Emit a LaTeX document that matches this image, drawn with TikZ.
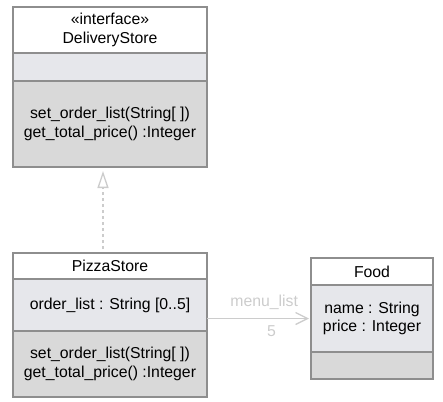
\documentclass[tikz,border=0pt]{standalone}
\usepackage{fontspec}
\setmainfont{Liberation Sans}
\usetikzlibrary{arrows.meta,positioning}
\definecolor{umlline}{HTML}{8E8E8E}
\definecolor{attrfill}{HTML}{E6E7EB}
\definecolor{opfill}{HTML}{D9D9D9}
\definecolor{linkgray}{HTML}{CCCCCC}

\begin{document}
\begin{tikzpicture}[x=1pt,y=-1pt,
  part/.style={draw=umlline,line width=1.6pt,outer sep=0pt,inner sep=0pt,minimum width=194pt,align=center,font=\fontsize{15.8}{18.5}\selectfont},
  namepart/.style={part,fill=white},
  attrpart/.style={part,fill=attrfill},
  oppart/.style={part,fill=opfill},
  realize/.style={draw=linkgray,line width=1.3pt,dash pattern=on 3pt off 3pt,-{Triangle[open,length=17pt,width=11pt,line width=1.3pt]},shorten <=4pt,shorten >=4pt},
  assoc/.style={draw=linkgray,line width=1.3pt,-{Straight Barb[length=12pt,width=12pt,line width=1.3pt]},shorten >=2pt},
  lbl/.style={text=linkgray,font=\fontsize{15.8}{18.5}\selectfont}]
  \useasboundingbox (0,0) rectangle (443,401);
  % DeliveryStore
  \node[namepart,anchor=north west,minimum height=46pt] (ds1) at (13,7) {«interface»\\DeliveryStore};
  \node[attrpart,below=0pt of ds1,minimum height=28pt] (ds2) {};
  \node[oppart,below=0pt of ds2,minimum height=86pt] (ds3) {set\_order\_list(String[ ])\\get\_total\_price() :Integer};
  % PizzaStore
  \node[namepart,anchor=north west,minimum height=26pt] (ps1) at (13,253) {PizzaStore};
  \node[attrpart,below=0pt of ps1,minimum height=52pt] (ps2) {order\_list : String [0..5]};
  \node[oppart,below=0pt of ps2,minimum height=66pt] (ps3) {set\_order\_list(String[ ])\\get\_total\_price() :Integer};
  % Food
  \node[namepart,anchor=north west,minimum width=122pt,minimum height=27pt] (fd1) at (311,258) {Food};
  \node[attrpart,below=0pt of fd1,minimum width=122pt,minimum height=67pt] (fd2) {name : String\\price : Integer};
  \node[oppart,below=0pt of fd2,minimum width=122pt,minimum height=27pt] (fd3) {};
  % links
  \draw[realize] ([xshift=-7pt]ps1.north) -- ([xshift=-7pt]ds3.south);
  \draw[assoc] (ps2.east |- fd2.west) -- (fd2.west)
    node[lbl,pos=0.55,above=5pt] (role) {menu\_list}
    node[lbl,pos=0.62,below=3pt] (mult) {5};
\end{tikzpicture}
\end{document}
